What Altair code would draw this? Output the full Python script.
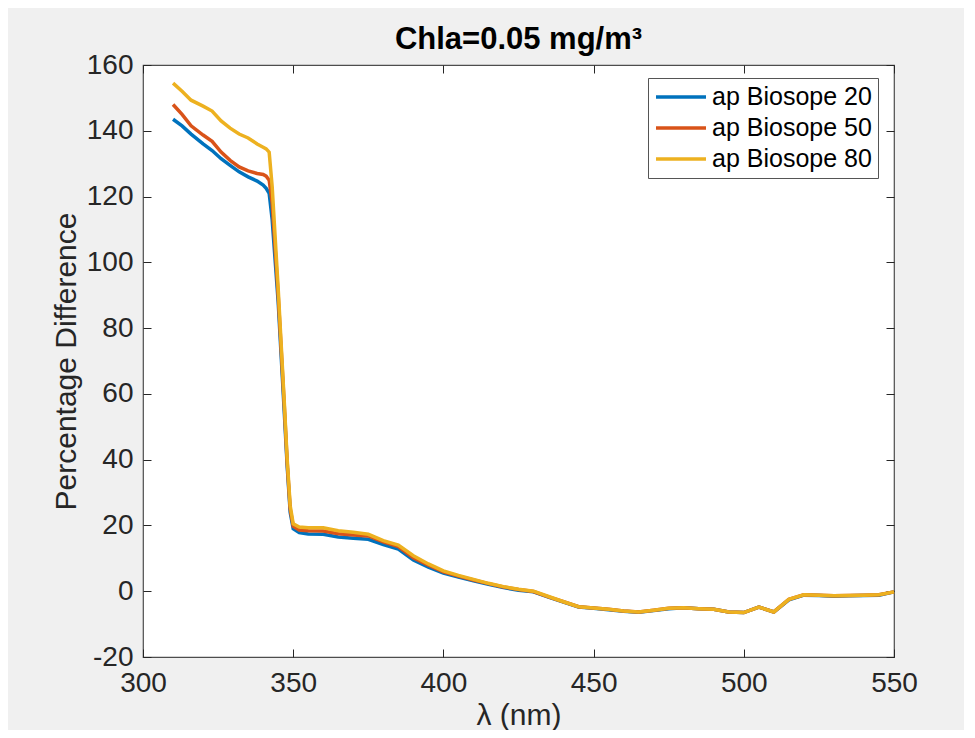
import altair as alt
import pandas as pd

# ---- data ----
wavelength = [310, 313, 316, 320, 323, 326, 329, 332, 335, 338, 340, 341, 342, 343,
              345, 347, 348, 349, 350, 352, 355, 360, 365, 370, 375, 380, 385, 390,
              395, 400, 405, 410, 415, 420, 425, 430, 435, 440, 445, 450, 455, 460,
              465, 470, 475, 480, 485, 490, 495, 500, 505, 510, 515, 520, 525, 530,
              535, 540, 545, 550]

biosope20 = [143.5, 141.5, 139.0, 136.0, 134.0, 131.5, 129.5, 127.5, 126.0, 124.7, 123.5, 122.5, 121.0, 113.0,
             88.0, 55.0, 38.0, 24.0, 19.0, 17.8, 17.4, 17.3, 16.5, 16.1, 15.8, 14.2, 12.8, 9.5,
             7.3, 5.5, 4.3, 3.2, 2.1, 1.1, 0.3, -0.2, -1.8, -3.3, -4.8, -5.2, -5.6, -6.1,
             -6.4, -5.9, -5.3, -5.0, -5.3, -5.5, -6.3, -6.5, -4.8, -6.3, -2.6, -1.2, -1.3, -1.5,
             -1.4, -1.3, -1.2, -0.2]

biosope50 = [148.0, 145.0, 141.5, 138.7, 136.8, 133.5, 131.0, 129.0, 127.8, 127.0, 126.7, 126.2, 125.0, 118.0,
             90.0, 57.0, 39.0, 25.0, 19.8, 18.6, 18.4, 18.3, 17.5, 17.1, 16.8, 15.0, 13.6, 10.2,
             7.9, 5.9, 4.6, 3.4, 2.3, 1.3, 0.5, -0.1, -1.7, -3.2, -4.7, -5.1, -5.5, -6.0,
             -6.3, -5.8, -5.2, -5.0, -5.3, -5.5, -6.3, -6.5, -4.8, -6.3, -2.5, -1.1, -1.2, -1.4,
             -1.3, -1.2, -1.1, -0.2]

biosope80 = [154.5, 152.0, 149.3, 147.5, 146.0, 143.0, 140.8, 139.0, 137.8, 136.0, 135.0, 134.5, 133.5, 123.0,
             92.0, 58.0, 40.0, 26.0, 20.5, 19.5, 19.3, 19.3, 18.4, 17.9, 17.3, 15.4, 14.0, 10.8,
             8.3, 6.2, 4.8, 3.6, 2.4, 1.4, 0.6, 0.0, -1.6, -3.2, -4.7, -5.1, -5.5, -6.0,
             -6.3, -5.8, -5.2, -5.0, -5.3, -5.5, -6.3, -6.5, -4.8, -6.3, -2.5, -1.1, -1.2, -1.4,
             -1.3, -1.2, -1.1, -0.2]

series_names = ["ap Biosope 20", "ap Biosope 50", "ap Biosope 80"]
series_colors = ["#0072BD", "#D95319", "#EDB120"]
x_ticks = [300, 350, 400, 450, 500, 550]
y_ticks = [-20, 0, 20, 40, 60, 80, 100, 120, 140, 160]

rows = []
for name, vals in zip(series_names, [biosope20, biosope50, biosope80]):
    for w, v in zip(wavelength, vals):
        rows.append({"wl": w, "pd": v, "series": name})
df = pd.DataFrame(rows)

FONT = "Liberation Sans"
TXT = "#262626"
xscale = alt.Scale(domain=[300, 550], nice=False, zero=False)
yscale = alt.Scale(domain=[-20, 160], nice=False, zero=False)

main = alt.Chart(df).mark_line(strokeWidth=3.5).encode(
    x=alt.X("wl:Q", scale=xscale,
            axis=alt.Axis(values=x_ticks, orient="bottom", offset=-8, tickSize=8,
                          tickColor=TXT, domain=False, grid=False, labelFontSize=28,
                          labelColor=TXT, labelFont=FONT, labelPadding=12,
                          labelFlush=False, labelExpr="'' + datum.value",
                          title="λ (nm)", titleFont=FONT, titleFontSize=30,
                          titleFontWeight="normal", titleColor=TXT, titlePadding=3)),
    y=alt.Y("pd:Q", scale=yscale,
            axis=alt.Axis(values=y_ticks, orient="left", offset=-8, tickSize=8,
                          tickColor=TXT, domain=False, grid=False, labelFontSize=28,
                          labelColor=TXT, labelFont=FONT, labelPadding=10,
                          labelFlush=False, labelExpr="'' + datum.value",
                          title="Percentage Difference", titleFont=FONT, titleFontSize=30,
                          titleFontWeight="normal", titleColor=TXT, titlePadding=5)),
    color=alt.Color("series:N",
                    scale=alt.Scale(domain=series_names, range=series_colors),
                    legend=alt.Legend(title=None, orient="none", legendX=505, legendY=13,
                                      symbolType="stroke", symbolSize=2500,
                                      symbolStrokeWidth=3.5, labelFontSize=25,
                                      labelFont=FONT, labelColor="#000000",
                                      strokeColor="#555555", fillColor="#ffffff",
                                      padding=6, clipHeight=26, rowPadding=5,
                                      labelOffset=4)),
    order=alt.Order("series:N"),
)

frame = alt.Chart(df).mark_line(opacity=0).encode(
    x=alt.X("wl:Q", scale=xscale,
            axis=alt.Axis(values=x_ticks, orient="top", offset=-8, tickSize=8,
                          tickColor=TXT, domain=False, grid=False, labels=False, title=None)),
    y=alt.Y("pd:Q", scale=yscale,
            axis=alt.Axis(values=y_ticks, orient="right", offset=-8, tickSize=8,
                          tickColor=TXT, domain=False, grid=False, labels=False, title=None)),
)

chart = alt.layer(main, frame).resolve_axis(x="independent", y="independent").properties(
    width=751, height=592,
    title=alt.TitleParams("Chla=0.05 mg/m³", font=FONT, fontSize=31, fontWeight="bold",
                          color="#000000", anchor="middle", offset=-5),
    background="#f0f0f0",
    padding={"left": 135, "top": 57, "right": 70, "bottom": 73},
    autosize=alt.AutoSizeParams(type="none"),
).configure_view(fill="#ffffff", stroke="#4d4d4d", strokeWidth=1.2)

chart.save("out.html", embed_options={"renderer": "svg", "actions": False})
